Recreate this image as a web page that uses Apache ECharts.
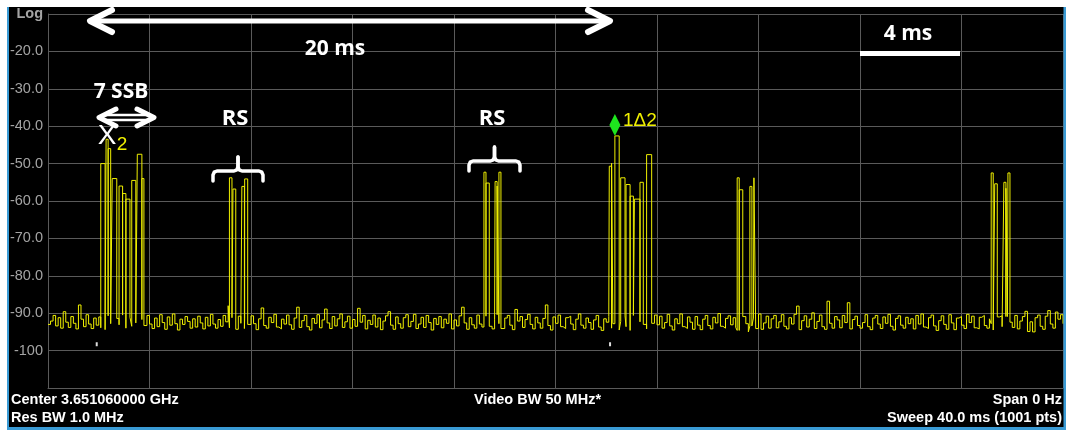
<!DOCTYPE html>
<html>
<head>
<meta charset="utf-8">
<script src="https://cdn.jsdelivr.net/npm/echarts@6/dist/echarts.min.js"></script>
<style>
html, body { margin: 0; padding: 0; background: #fff; }
#chart { width: 1068px; height: 430px; }
</style>
</head>
<body>
<div id="chart"></div>
<script>
// zero span sweep, 40 ms, trace values (dBm)
const sweepMs = 40
const floorStepMs = 0.1
const yTicks = [-110, -100, -90, -80, -70, -60, -50, -40, -30, -20, -10]
const yTickLabels = ['', '-100', '-90.0', '-80.0', '-70.0', '-60.0', '-50.0', '-40.0', '-30.0', '-20.0', 'Log']

// noise floor, one value per 0.1 ms
const floorDb = [
  -93.0, -92.1, -90.6, -93.4, -91.2, -94.0, -89.6, -92.4, -93.8, -90.9, -92.7, -94.2, -87.8, -91.6, -93.6, -90.4, -92.9, -94.1, -91.3, -93.2,
  -91.0, -93.9, -92.2, -94.4, -90.7, -92.8, -94.3, -91.4, -93.1, -90.5, -92.4, -94.0, -91.1, -93.5, -90.8, -92.6, -94.2, -91.7, -93.3, -90.6,
  -92.9, -94.1, -91.3, -93.6, -90.4, -92.5, -94.3, -91.0, -93.2, -90.2, -92.8, -94.5, -91.6, -93.0, -90.9, -92.2, -94.0, -91.5, -93.7, -90.8,
  -92.6, -94.2, -91.1, -93.4, -90.3, -92.9, -94.0, -91.7, -93.5, -90.6, -92.3, -88.0, -93.9, -91.2, -94.3, -90.8, -92.7, -94.1, -91.4, -93.0,
  -90.7, -92.8, -94.4, -91.5, -88.6, -93.3, -94.0, -91.1, -92.5, -90.3, -93.7, -94.2, -91.6, -92.9, -90.5, -93.1, -94.3, -91.3, -88.4, -93.8,
  -92.0, -90.6, -93.6, -94.5, -91.4, -92.7, -90.4, -93.9, -91.8, -88.9, -92.6, -94.1, -90.9, -93.4, -91.5, -90.2, -93.8, -92.3, -90.8, -94.0,
  -91.7, -93.5, -88.7, -92.4, -90.6, -94.2, -91.9, -93.0, -90.5, -93.7, -91.3, -94.4, -92.1, -90.7, -89.6, -93.2, -94.3, -91.0, -92.8, -94.0,
  -91.2, -90.4, -93.6, -92.2, -90.3, -94.1, -92.9, -91.1, -93.8, -90.6, -92.5, -94.5, -91.4, -93.0, -90.9, -93.9, -91.6, -92.7, -90.2, -94.2,
  -91.8, -93.4, -90.7, -88.4, -92.6, -94.3, -91.2, -93.1, -94.0, -90.5, -92.9, -93.7, -91.0, -90.8, -93.5, -94.2, -91.6, -90.4, -92.8, -94.1,
  -91.3, -90.6, -93.2, -94.4, -89.0, -92.1, -90.9, -93.8, -91.7, -90.3, -93.0, -94.2, -91.1, -92.6, -94.0, -91.4, -87.8, -93.3, -94.5, -91.0,
  -92.7, -90.5, -93.6, -94.1, -91.2, -90.8, -92.9, -94.4, -91.6, -90.2, -93.2, -94.0, -91.3, -92.5, -94.3, -91.8, -90.6, -93.7, -94.6, -91.5,
  -92.4, -90.9, -94.0, -92.8, -91.0, -94.5, -92.2, -90.7, -93.6, -94.6, -92.9, -90.6, -94.1, -92.3, -90.4, -93.0, -94.2, -91.2, -92.7, -90.5,
  -93.1, -90.8, -94.0, -92.5, -90.3, -93.4, -94.5, -91.5, -92.8, -90.2, -93.6, -94.1, -91.0, -92.4, -94.3, -90.9, -93.2, -94.4, -91.6, -90.6,
  -93.3, -94.2, -91.1, -92.6, -90.1, -93.5, -94.0, -91.4, -90.7, -93.1, -91.2, -93.8, -94.6, -91.6, -90.9, -92.8, -95.0, -93.4, -91.3, -94.1,
  -90.2, -94.3, -92.6, -90.8, -94.0, -91.5, -90.6, -93.9, -92.3, -90.4, -93.5, -94.2, -91.2, -92.9, -90.3, -88.1, -94.4, -92.0, -90.7, -93.7,
  -91.6, -89.9, -94.1, -92.2, -90.5, -93.6, -94.3, -86.8, -92.7, -94.0, -90.9, -91.8, -93.9, -90.6, -92.5, -87.2, -94.2, -91.7, -90.8, -93.3,
  -94.0, -92.5, -90.4, -93.6, -94.4, -91.3, -90.6, -92.9, -94.1, -91.0, -92.7, -90.3, -93.5, -94.5, -91.4, -90.7, -93.2, -94.0, -91.1, -92.8,
  -91.5, -94.2, -90.6, -92.9, -90.2, -93.7, -94.1, -91.2, -90.5, -93.4, -94.6, -92.0, -90.7, -93.0, -94.3, -90.4, -92.6, -94.4, -91.3, -90.9,
  -93.2, -94.1, -90.3, -92.5, -90.8, -93.9, -94.2, -91.1, -90.6, -93.3, -94.0, -91.5, -92.8, -94.5, -91.0, -90.7, -93.6, -94.1, -90.9, -92.4,
  -93.8, -90.6, -94.2, -92.1, -90.9, -89.5, -94.9, -92.3, -95.0, -91.2, -90.5, -93.5, -94.3, -90.8, -89.3, -92.9, -94.0, -89.7, -91.6, -90.4,
  -92.8
]

// SSB burst pulses: [start ms, end ms, level dB]
const ssbPulses = [
  [2.08, 2.25, -50.0], [2.29, 2.37, -43.5], [2.37, 2.47, -46.0], [2.53, 2.71, -54.0], [2.80, 2.94, -56.0],
  [2.94, 3.07, -58.0], [3.07, 3.23, -59.5], [3.30, 3.46, -54.5], [3.52, 3.70, -47.5], [3.70, 3.78, -54.0],
  [22.12, 22.21, -50.7], [22.21, 22.26, -49.9], [22.34, 22.51, -42.6], [22.57, 22.74, -53.8], [22.78, 22.94, -55.6],
  [22.94, 23.07, -58.7], [23.11, 23.33, -59.5], [23.33, 23.46, -55.0], [23.59, 23.79, -47.6]
]

// RS pulses
const rsPulses = [
  [7.15, 7.25, -53.8], [7.29, 7.40, -56.8], [7.64, 7.74, -56.1], [7.75, 7.87, -54.1],
  [17.18, 17.26, -52.3], [17.26, 17.39, -55.2], [17.62, 17.70, -54.8], [17.70, 17.77, -56.0], [17.77, 17.85, -52.3],
  [27.16, 27.24, -53.8], [27.24, 27.38, -57.0], [27.66, 27.74, -56.1], [27.82, 27.89, -53.8],
  [37.17, 37.25, -52.5], [37.31, 37.41, -55.4], [37.67, 37.75, -55.0], [37.75, 37.81, -56.6], [37.83, 37.91, -52.5]
]

const deltaMarker = [22.34, -42.6]
const triggerTicks = [[1.92, -98.3], [22.15, -98.3]]

function buildTrace() {
  const pulses = ssbPulses.concat(rsPulses).sort((a, b) => a[0] - b[0])
  const floorAt = t => floorDb[Math.min(floorDb.length - 1, Math.round(t / floorStepMs))]
  const out = []
  let p = 0
  floorDb.forEach((db, i) => {
    const t = +(i * floorStepMs).toFixed(2)
    while (p < pulses.length && pulses[p][0] <= t) {
      const [s, e, lvl] = pulses[p]
      out.push([s, floorAt(s)], [s, lvl], [e, lvl], [e, floorAt(e)])
      p++
    }
    if (!pulses.some(([s, e]) => t >= s && t <= e)) out.push([t, db])
  })
  return out
}

const white = '#ffffff'
const yellow = '#f0f000'
const gridColor = '#5a5a5a'
const blue = '#3a9bd5'
const boldFont = 'bold 21px "Open Sans"'
const footFont = 'bold 14.5px "Liberation Sans"'

function txt(text, x, y, font, fill, align) {
  return { type: 'text', z: 100, style: { text, x, y, font, fill: fill || white, textAlign: align || 'center', textVerticalAlign: 'middle' } }
}
function poly(points, w) {
  return { type: 'polyline', z: 100, shape: { points }, style: { stroke: white, lineWidth: w, fill: null, lineCap: 'round', lineJoin: 'round' } }
}
// curly bracket drawn as two polylines
function brace(x0, x1, yb, yTop) {
  const xm = (x0 + x1) / 2
  const yh = yb - 10
  const left = [[x0, yb], [x0, yh + 4], [x0 + 1.2, yh + 1.2], [x0 + 4, yh], [xm - 4, yh], [xm - 1.2, yh - 1.2], [xm, yh - 4], [xm, yTop]]
  const right = left.map(([x, y]) => [2 * xm - x, y])
  return [poly(left, 3.5), poly(right, 3.5)]
}

const myChart = echarts.init(document.getElementById('chart'))
const option = {
  animation: false,
  backgroundColor: '#000',
  grid: { left: 48, right: 5, top: 14, bottom: 42 },
  xAxis: {
    type: 'value',
    min: 0,
    max: sweepMs,
    interval: 4,
    axisLabel: { show: false },
    axisTick: { show: false },
    axisLine: { show: true, lineStyle: { color: gridColor } },
    splitLine: { show: true, lineStyle: { color: gridColor, width: 1 } }
  },
  yAxis: {
    type: 'value',
    min: -110,
    max: -10,
    interval: 10,
    axisTick: { show: false },
    axisLine: { show: true, lineStyle: { color: gridColor } },
    splitLine: { show: true, lineStyle: { color: gridColor, width: 1 } },
    axisLabel: {
      margin: 5,
      color: '#a4a4a4',
      fontFamily: 'Liberation Sans',
      fontSize: 14.5,
      formatter: v => {
        const s = yTickLabels[yTicks.indexOf(v)] || ''
        return s === 'Log' ? '{b|Log}' : s
      },
      rich: { b: { fontWeight: 'bold', fontSize: 14.5, color: '#a4a4a4', fontFamily: 'Liberation Sans' } }
    }
  },
  series: [{
    type: 'line',
    data: buildTrace(),
    step: 'end',
    showSymbol: false,
    symbol: 'none',
    clip: true,
    lineStyle: { color: yellow, width: 1 },
    markPoint: {
      silent: true,
      label: { show: false },
      data: [
        { coord: deltaMarker, symbol: 'diamond', symbolSize: [11, 22], symbolOffset: [0, -11], itemStyle: { color: '#1ee61e' } },
        ...triggerTicks.map(c => ({ coord: c, symbol: 'rect', symbolSize: [2, 4], itemStyle: { color: '#dddddd' } }))
      ]
    }
  }],
  graphic: [
    // white page margin and blue frame
    { type: 'rect', z: 90, shape: { x: 0, y: 0, width: 1068, height: 7 }, style: { fill: '#fff' } },
    { type: 'rect', z: 90, shape: { x: 0, y: 0, width: 7, height: 430 }, style: { fill: '#fff' } },
    { type: 'rect', z: 90, shape: { x: 1066, y: 0, width: 2, height: 430 }, style: { fill: '#fff' } },
    { type: 'rect', z: 91, shape: { x: 7, y: 7, width: 2, height: 423 }, style: { fill: blue } },
    { type: 'rect', z: 91, shape: { x: 1063.5, y: 7, width: 2.5, height: 423 }, style: { fill: blue } },
    { type: 'rect', z: 91, shape: { x: 7, y: 427, width: 1059, height: 3 }, style: { fill: blue } },
    // 20 ms arrow
    poly([[92, 21], [608, 21]], 5),
    poly([[112, 10], [90, 21], [112, 32]], 6),
    poly([[588, 10], [610, 21], [588, 32]], 6),
    txt('20 ms', 335, 49, boldFont),
    // 4 ms scale bar
    txt('4 ms', 908, 34, boldFont),
    { type: 'rect', z: 100, shape: { x: 860, y: 51, width: 100, height: 5 }, style: { fill: white } },
    // 7 SSB
    txt('7 SSB', 121, 92, 'bold 21px "Open Sans"'),
    poly([[116, 109], [99, 117.5], [116, 126]], 5),
    poly([[137, 109], [154, 117.5], [137, 126]], 5),
    poly([[104, 115], [149, 115]], 2.5),
    poly([[104, 120], [149, 120]], 2.5),
    txt('X', 107, 136, '28px "Liberation Sans"'),
    txt('2', 122, 145, '19px "Liberation Sans"', yellow),
    // RS labels
    txt('RS', 235, 119, 'bold 22px "Open Sans"'),
    txt('RS', 492, 119, 'bold 22px "Open Sans"'),
    ...brace(213, 263, 181, 157),
    ...brace(469, 520, 171, 147),
    txt('1\u03942', 623, 121, '19px "Liberation Sans"', yellow, 'left'),
    // footer
    txt('Center 3.651060000 GHz', 11, 400, footFont, white, 'left'),
    txt('Res BW 1.0 MHz', 11, 418, footFont, white, 'left'),
    txt('Video BW 50 MHz*', 474, 400, footFont, white, 'left'),
    txt('Span 0 Hz', 1062, 400, footFont, white, 'right'),
    txt('Sweep 40.0 ms (1001 pts)', 1062, 418, footFont, white, 'right')
  ]
}
myChart.setOption(option)
</script>
</body>
</html>
